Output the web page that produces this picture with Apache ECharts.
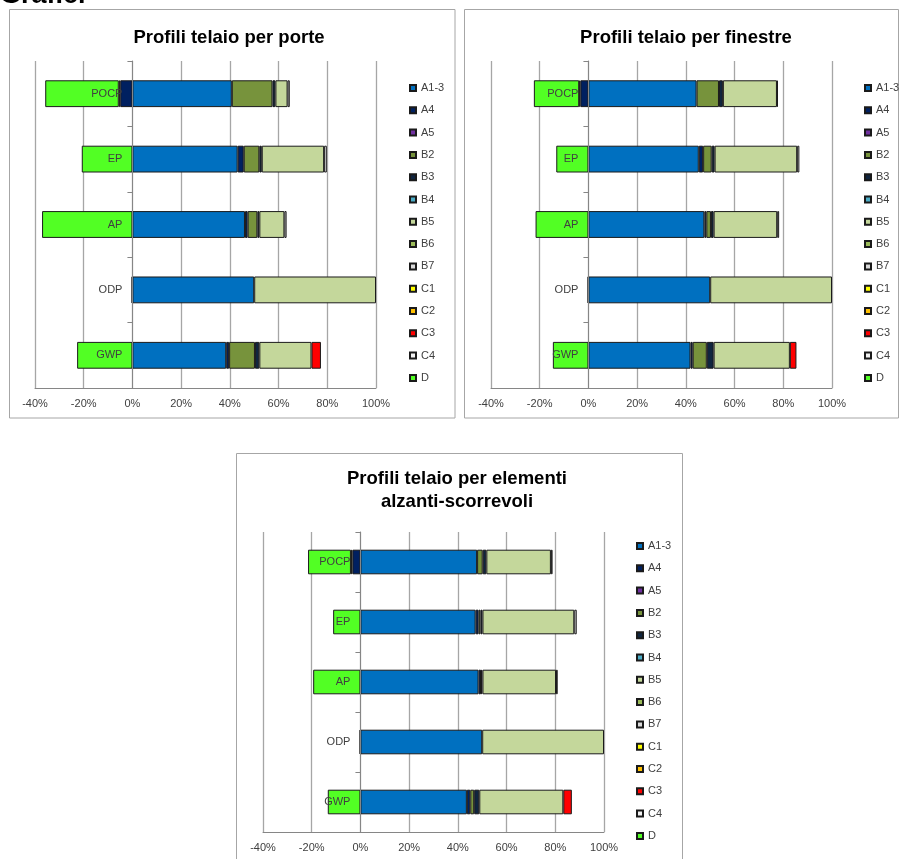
<!DOCTYPE html>
<html><head><meta charset="utf-8">
<script src="https://cdn.jsdelivr.net/npm/echarts@6/dist/echarts.min.js"></script>
<style>
html,body{margin:0;padding:0;background:#fff;overflow:hidden}
#c{position:absolute;left:0;top:0;width:900px;height:859px}
#h{position:absolute;left:0;top:-19px;font:bold 27px/27px "Liberation Sans",Arial,sans-serif;color:#000;z-index:5;white-space:nowrap}
</style></head><body>
<div id="c"></div><div id="h">Grafici</div>
<script>
// Categories (bottom to top, as in the source spreadsheet)
const categories = ['GWP', 'ODP', 'AP', 'EP', 'POCP'];
// Life-cycle stages (legend order)
const stages = ['A1-3','A4','A5','B2','B3','B4','B5','B6','B7','C1','C2','C3','C4','D'];
const stageColors = ['#0070C0','#002060','#7030A0','#77933C','#10253F','#4BACC6','#C4D79B','#9BBB59','#D9D9D9','#FFFF00','#FFC000','#FF0000','#F2F2F2','#52FF24'];
const chartTitles = ['Profili telaio per porte', 'Profili telaio per finestre', 'Profili telaio per elementi\nalzanti-scorrevoli'];
const tickValues = [-40, -20, 0, 20, 40, 60, 80, 100];

// Chart 1: porte (values in %, order GWP, ODP, AP, EP, POCP)
const porteA13 = [38.5, 50, 46.2, 43.2, 40.8];
const porteA4  = [1.2, 0, 1.1, 2.5, -5.0];
const porteB2  = [10.6, 0, 4.0, 6.4, 16.7];
const porteB3  = [1.8, 0, 0.8, 1.0, 1.2];
const porteB5  = [21.4, 50, 10.3, 25.6, 5.0];
const porteC2  = [0, 0, 0, 0, -0.6];
const porteC3  = [3.9, 0, 0, 0, 0];
const porteC4  = [0, 0, 0.9, 1.1, 0.9];
const porteD   = [-22.7, -0.3, -37.1, -20.8, -30.2];

// Chart 2: finestre
const finestreA13 = [41.9, 50, 47.6, 45.3, 44.4];
const finestreA4  = [0.9, 0, 0.8, 1.8, -3.3];
const finestreB2  = [5.8, 0, 1.9, 3.5, 9.2];
const finestreB3  = [2.8, 0, 1.1, 1.2, 1.6];
const finestreB5  = [31.3, 50, 26.1, 33.9, 22.2];
const finestreC2  = [0, 0, 0, 0, -0.5];
const finestreC3  = [2.7, 0, 0, 0, 0];
const finestreC4  = [0, 0, 0.8, 0.9, 0.4];
const finestreD   = [-14.6, -0.3, -21.7, -13.2, -18.6];

// Chart 3: elementi alzanti-scorrevoli
const alzantiA13 = [43.7, 50, 48.5, 47.3, 47.9];
const alzantiA4  = [1.4, 0, 1.0, 1.2, -3.3];
const alzantiB2  = [1.6, 0, 0, 0.8, 2.3];
const alzantiB3  = [2.1, 0, 0.6, 0.8, 1.5];
const alzantiB5  = [34.5, 50, 30.2, 37.7, 26.5];
const alzantiC2  = [0, 0, 0, 0, -0.6];
const alzantiC3  = [3.5, 0, 0, 0, 0];
const alzantiC4  = [0, 0, 0.7, 1.0, 0.7];
const alzantiD   = [-13.4, -0.3, -19.4, -11.2, -17.6];

const chartData = [
  {'A1-3': porteA13, 'A4': porteA4, 'B2': porteB2, 'B3': porteB3, 'B5': porteB5, 'C2': porteC2, 'C3': porteC3, 'C4': porteC4, 'D': porteD},
  {'A1-3': finestreA13, 'A4': finestreA4, 'B2': finestreB2, 'B3': finestreB3, 'B5': finestreB5, 'C2': finestreC2, 'C3': finestreC3, 'C4': finestreC4, 'D': finestreD},
  {'A1-3': alzantiA13, 'A4': alzantiA4, 'B2': alzantiB2, 'B3': alzantiB3, 'B5': alzantiB5, 'C2': alzantiC2, 'C3': alzantiC3, 'C4': alzantiC4, 'D': alzantiD}
];

// Layout
const grids = [
  {left: 35, top: 61, width: 341, height: 327},
  {left: 491, top: 61, width: 341, height: 327},
  {left: 263, top: 532, width: 341, height: 300}
];
const legendPos = [{left: 409, top: 82.5}, {left: 864, top: 82.5}, {left: 636, top: 540.5}];
const titlePos = [{x: 229, y: 38}, {x: 686, y: 38}, {x: 457, y: 490.5}];
const frames = [
  {x: 9.5, y: 9.5, width: 445.5, height: 408.5},
  {x: 464.5, y: 9.5, width: 434, height: 408.5},
  {x: 236.5, y: 453.5, width: 446, height: 420}
];

const FONT = '"Liberation Sans", Arial, sans-serif';
const textCol = '#404040';
const gridCol = '#A6A6A6';
const axisCol = '#868686';

const xMin = tickValues[0], xMax = tickValues[tickValues.length - 1];

const xAxis = [], yAxis = [], series = [], legend = [], graphic = [];
for (let k = 0; k < 3; k++) {
  // place the category axis on the zero of the value axis
  const zeroOffset = -grids[k].width * (0 - xMin) / (xMax - xMin);
  xAxis.push({
    type: 'value', gridIndex: k,
    min: xMin, max: xMax, interval: 20,
    axisLabel: {formatter: '{value}%', fontSize: 11, color: textCol, fontFamily: FONT, margin: 10},
    axisLine: {show: true, onZero: false, lineStyle: {color: axisCol, width: 1}},
    axisTick: {show: false},
    splitLine: {show: true, lineStyle: {color: gridCol, width: 1.3}}
  });
  yAxis.push({
    type: 'category', gridIndex: k, data: categories, z: 10,
    position: 'left', offset: zeroOffset,
    axisLine: {show: true, onZero: false, lineStyle: {color: axisCol, width: 1}},
    axisTick: {show: true, length: 5, lineStyle: {color: axisCol}},
    axisLabel: {fontSize: 11, color: textCol, fontFamily: FONT, margin: 10},
    splitLine: {show: false}
  });
  stages.forEach((s, i) => {
    const vals = chartData[k][s] || [0, 0, 0, 0, 0];
    series.push({
      type: 'bar', name: s, stack: 'st' + k,
      xAxisIndex: k, yAxisIndex: k,
      barWidth: '41%',
      silent: true,
      itemStyle: {color: stageColors[i], borderColor: '#1a1a1a', borderWidth: 1},
      data: vals.map(v => v === 0 ? '-' : v)
    });
  });
  legend.push({
    orient: 'vertical', left: legendPos[k].left, top: legendPos[k].top,
    padding: 0, itemWidth: 6, itemHeight: 6, itemGap: 11.3,
    icon: 'rect', selectedMode: false,
    textStyle: {fontSize: 11, color: textCol, fontFamily: FONT, lineHeight: 11},
    data: stages
  });
  graphic.push({
    type: 'rect', z: -10, silent: true,
    shape: frames[k],
    style: {fill: 'none', stroke: '#A6A6A6', lineWidth: 1}
  });
  graphic.push({
    type: 'text', x: titlePos[k].x, y: titlePos[k].y, silent: true,
    style: {text: chartTitles[k], align: 'center', verticalAlign: 'middle',
      font: 'bold 18.5px ' + FONT, fill: '#000', lineHeight: 23}
  });
}

const chart = echarts.init(document.getElementById('c'));
chart.setOption({
  animation: false,
  backgroundColor: '#fff',
  grid: grids.map(g => Object.assign({containLabel: false, outerBoundsMode: 'none'}, g)),
  xAxis, yAxis, series, legend, graphic
});
</script>
</body></html>
